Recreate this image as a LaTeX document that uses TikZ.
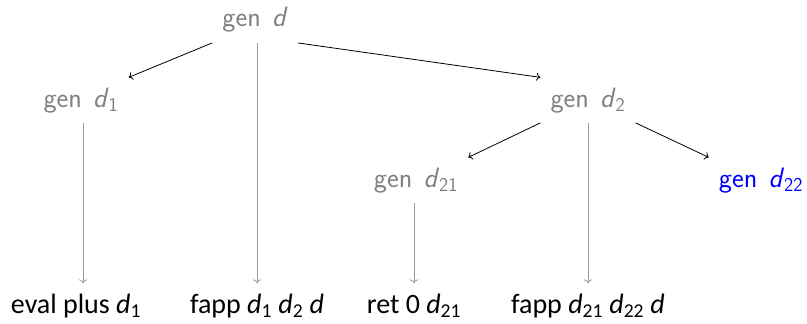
\documentclass[tikz,border=0pt]{standalone}
\usepackage{fontspec}
\newfontfamily\carlito{Carlito}
\usetikzlibrary{arrows.meta}
\newcommand{\dd}{\textit{d}}
\begin{document}
\begin{tikzpicture}[x=1pt,y=-1pt,
  topfont/.style={font=\fontsize{28}{32}\selectfont\sffamily},
  botfont/.style={font=\fontsize{28}{32}\selectfont\carlito},
  gennode/.style={topfont, text=black!50, inner sep=10pt, anchor=base},
  bluenode/.style={topfont, text=blue, inner sep=10pt, anchor=base},
  leafnode/.style={botfont, text=black, inner sep=10pt, anchor=base},
  blackarrow/.style={draw=black, line width=0.8pt, -{To[length=4pt,width=8pt]}},
  grayarrow/.style={draw=black!40, line width=0.8pt, -{To[length=4pt,width=8pt]}}]
\useasboundingbox (0,0) rectangle (807,324);
\node[gennode] (gd) at (255,27) {gen\hspace{0.4em}\dd};
\node[gennode] (gd1) at (81,107) {gen\hspace{0.4em}\dd\textsubscript{1}};
\node[gennode] (gd2) at (588,107) {gen\hspace{0.4em}\dd\textsubscript{2}};
\node[gennode] (gd21) at (416,187) {gen\hspace{0.4em}\dd\textsubscript{21}};
\node[bluenode] (gd22) at (761,187) {gen\hspace{0.4em}\dd\textsubscript{22}};
\node[leafnode] (l1) at (76,313) {eval plus \dd\textsubscript{1}};
\node[leafnode] (l2) at (257,313) {fapp \dd\textsubscript{1} \dd\textsubscript{2} \dd};
\node[leafnode] (l3) at (414,313) {ret 0 \dd\textsubscript{21}};
\node[leafnode] (l4) at (588,313) {fapp \dd\textsubscript{21} \dd\textsubscript{22} \dd};
\coordinate (c1) at (83,0);
\draw[grayarrow] (gd1.south -| c1) -- (l1.north -| c1);
\draw[blackarrow] (gd.south west) -- (gd1.north east);
\draw[blackarrow] (gd.south east) -- (gd2.north west);
\draw[blackarrow] (gd2.south west) -- (gd21.north east);
\draw[blackarrow] (gd2.south east) -- (gd22.north west);
\draw[grayarrow] (gd.south -| l2.north) -- (l2.north);
\draw[grayarrow] (gd21.south -| l3.north) -- (l3.north);
\draw[grayarrow] (gd2.south -| l4.north) -- (l4.north);
\end{tikzpicture}
\end{document}
